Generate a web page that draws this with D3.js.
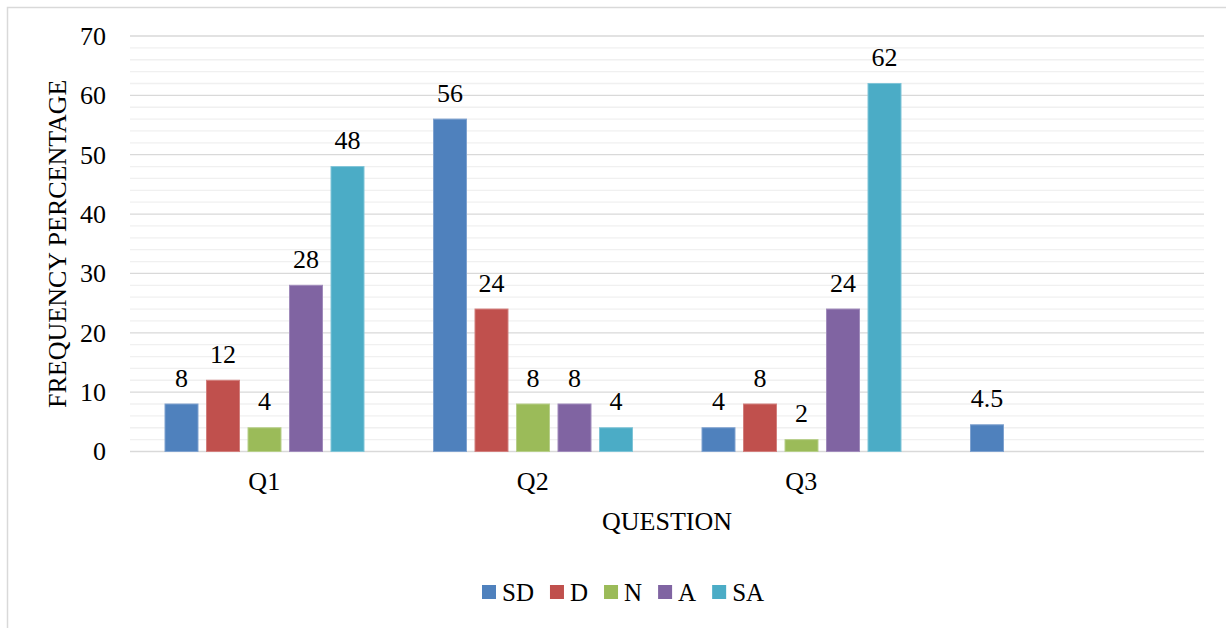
<!DOCTYPE html>
<html>
<head>
<meta charset="utf-8">
<script src="https://cdn.jsdelivr.net/npm/d3@7"></script>
<style>
  html, body { margin: 0; padding: 0; background: #fff; }
  svg text { font-family: 'Liberation Serif', 'Tinos', 'Times New Roman', 'DejaVu Serif', serif; }
</style>
</head>
<body>
<svg id="chart" width="1226" height="628"></svg>
<script>
// ---- Data ----
const categories = ["Q1", "Q2", "Q3", ""];
const seriesNames = ["SD", "D", "N", "A", "SA"];
const SD = [8, 56, 4, 4.5];
const D  = [12, 24, 8, null];
const N  = [4, 8, 2, null];
const A  = [28, 8, 24, null];
const SA = [48, 4, 62, null];
const seriesValues = [SD, D, N, A, SA];
const yTicks = [0, 10, 20, 30, 40, 50, 60, 70];
const colors = ["#4F81BD", "#C0504D", "#9BBB59", "#8064A2", "#4BACC6"];
const strokeColors = ["#7fa2cf", "#d27f7d", "#b7cf8a", "#a08bbb", "#7fc4d7"];

// ---- Layout ----
const svg = d3.select("#chart");
const plot = { left: 130, right: 1204, top: 36, bottom: 451.5 };
const FS = 26;
const FONT = "'Liberation Serif', 'Tinos', 'Times New Roman', 'DejaVu Serif', serif";

svg.append("rect")
  .attr("x", 7.5).attr("y", 7.5)
  .attr("width", 1240).attr("height", 640)
  .attr("fill", "none").attr("stroke", "#d9d9d9").attr("stroke-width", 1.5);

const x0 = d3.scaleBand().domain(categories).range([plot.left, plot.right]).padding(0);
const x1 = d3.scaleBand().domain(seriesNames)
  .range([35, 234]).paddingInner(0.205).paddingOuter(0);
const y = d3.scaleLinear().domain([0, 70]).range([plot.bottom, plot.top]);

// minor gridlines (every 2)
const minor = d3.range(2, 70, 2).filter(v => v % 10 !== 0);
svg.append("g").selectAll("line").data(minor).join("line")
  .attr("x1", plot.left).attr("x2", plot.right)
  .attr("y1", d => y(d)).attr("y2", d => y(d))
  .attr("stroke", "#f0f0f0").attr("stroke-width", 1.3);

// major gridlines
svg.append("g").selectAll("line").data(yTicks).join("line")
  .attr("x1", plot.left).attr("x2", plot.right)
  .attr("y1", d => y(d)).attr("y2", d => y(d))
  .attr("stroke", "#d9d9d9").attr("stroke-width", 1.3);

// y tick labels
svg.append("g").selectAll("text").data(yTicks).join("text")
  .attr("x", 106).attr("y", d => y(d) + 8.8)
  .attr("text-anchor", "end").attr("font-size", FS).attr("font-family", FONT).attr("fill", "#000")
  .text(d => d);

// bars
const barData = [];
categories.forEach((c, i) => {
  seriesNames.forEach((s, j) => {
    const v = seriesValues[j][i];
    if (v !== null && v !== undefined) barData.push({ c, s, j, v });
  });
});

svg.append("g").selectAll("rect").data(barData).join("rect")
  .attr("x", d => x0(d.c) + x1(d.s))
  .attr("y", d => y(d.v))
  .attr("width", x1.bandwidth())
  .attr("height", d => y(0) - y(d.v))
  .attr("fill", d => colors[d.j])
  .attr("stroke", d => strokeColors[d.j]).attr("stroke-width", 1);

// data labels
svg.append("g").selectAll("text").data(barData).join("text")
  .attr("x", d => x0(d.c) + x1(d.s) + x1.bandwidth() / 2)
  .attr("y", d => y(d.v) - 17.5)
  .attr("text-anchor", "middle").attr("font-size", FS).attr("font-family", FONT).attr("fill", "#000")
  .text(d => d.v);

// x category labels
svg.append("g").selectAll("text").data(categories).join("text")
  .attr("x", d => x0(d) + x0.bandwidth() / 2)
  .attr("y", 490)
  .attr("text-anchor", "middle").attr("font-size", FS).attr("font-family", FONT).attr("fill", "#000")
  .text(d => d);

// axis titles
svg.append("text")
  .attr("x", (plot.left + plot.right) / 2).attr("y", 530)
  .attr("text-anchor", "middle").attr("font-size", FS).attr("font-family", FONT).attr("fill", "#000")
  .text("QUESTION");

svg.append("text")
  .attr("transform", `translate(66, ${(plot.top + plot.bottom) / 2}) rotate(-90)`)
  .attr("text-anchor", "middle").attr("font-size", FS).attr("font-family", FONT).attr("fill", "#000")
  .text("FREQUENCY PERCENTAGE");

// legend
const legend = svg.append("g");
let lx = 482;
seriesNames.forEach((s, j) => {
  legend.append("rect")
    .attr("x", lx).attr("y", 585).attr("width", 14).attr("height", 14)
    .attr("fill", colors[j]);
  const t = legend.append("text")
    .attr("x", lx + 20).attr("y", 601)
    .attr("font-size", 25).attr("font-family", FONT).attr("fill", "#000")
    .text(s);
  const w = t.node().getComputedTextLength();
  lx += 20 + w + 16;
});
</script>
</body>
</html>
